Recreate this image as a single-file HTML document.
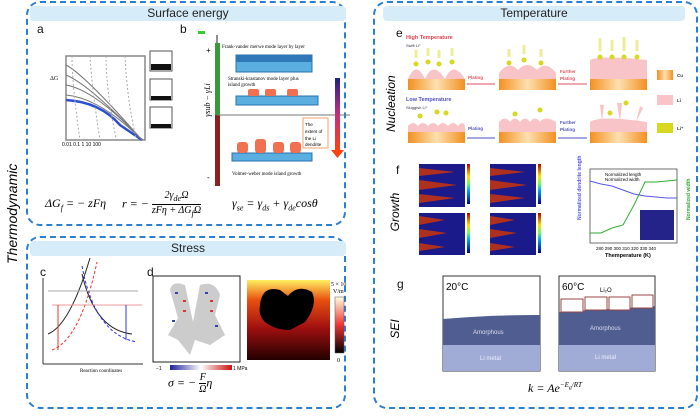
<!DOCTYPE html>
<html><head><meta charset="utf-8"><style>
body{margin:0;width:700px;height:420px;background:#fff;position:relative;overflow:hidden;font-family:"Liberation Sans",sans-serif}
.a{position:absolute}
.box{position:absolute;border:2px dashed #2a7fd0;border-radius:14px;box-sizing:border-box}
.hdr{position:absolute;background:#d6ecf8;border-radius:4px;font-size:12px;text-align:center;line-height:15px;color:#222}
.lab{position:absolute;font-size:12px;color:#111}
.ser{font-family:"Liberation Serif",serif;font-style:italic;white-space:nowrap}
.side{position:absolute;font-style:italic;font-size:12px;transform:rotate(-90deg);transform-origin:center;white-space:nowrap}
</style></head><body>
<div class="box" style="left:26px;top:1px;width:320px;height:225px"></div>
<div class="box" style="left:26px;top:236px;width:320px;height:173px"></div>
<div class="box" style="left:373px;top:1px;width:325px;height:408px"></div>
<div class="hdr" style="left:30px;top:6px;width:316px">Surface energy</div>
<div class="hdr" style="left:30px;top:241px;width:316px">Stress</div>
<div class="hdr" style="left:383px;top:6px;width:302px">Temperature</div>
<div class="side" style="left:-38px;top:206px;font-size:14px;width:100px;text-align:center">Thermodynamic</div>
<div class="side" style="left:366px;top:100px;width:50px;text-align:center">Nucleation</div>
<div class="side" style="left:375px;top:205px;width:40px;text-align:center">Growth</div>
<div class="side" style="left:380px;top:322px;width:30px;text-align:center">SEI</div>
<div class="lab" style="left:37px;top:22px">a</div>
<div class="lab" style="left:180px;top:22px">b</div>
<div class="lab" style="left:40px;top:265px">c</div>
<div class="lab" style="left:147px;top:265px">d</div>
<div class="lab" style="left:396px;top:26px">e</div>
<div class="lab" style="left:396px;top:163px">f</div>
<div class="lab" style="left:397px;top:277px">g</div>
<svg class="a" style="left:0;top:0" width="700" height="420">
<rect x="66" y="56" width="79" height="84" fill="none" stroke="#888" stroke-width="1.5"/>
<path d="M66 100 Q100 102 120 125 L142 140" stroke="#2a4fd0" stroke-width="2.5" fill="none"/>
<path d="M66 95 Q100 98 142 140 M66 85 Q95 90 142 140 M66 75 Q90 85 142 140 M66 65 Q85 75 142 140" stroke="#777" fill="none"/>
<path d="M72 56 Q72 85 80 140 M90 56 Q92 90 100 140 M106 56 Q106 90 116 138 M125 56 Q127 100 136 138" stroke="#aaa" stroke-dasharray="2,2" fill="none"/>
<text x="50" y="80" font-size="6" font-family="Liberation Serif">ΔG</text>
<text x="62" y="146" font-size="5">0.01  0.1   1   10  100</text>
<g fill="#fff" stroke="#555"><rect x="150" y="51" width="22" height="20"/><rect x="150" y="79" width="22" height="21"/><rect x="150" y="107" width="22" height="21"/></g>
<g fill="#111"><rect x="151" y="64" width="20" height="6"/><rect x="151" y="96" width="20" height="4"/><rect x="151" y="124" width="20" height="4"/></g>
<line x1="217" y1="35" x2="217" y2="186" stroke="#222"/>
<rect x="215" y="43" width="5" height="72" fill="#3a9a3a"/><rect x="215" y="115" width="5" height="71" fill="#8a2020"/>
<rect x="198" y="31" width="7" height="3" fill="#3c3"/>
<line x1="217" y1="115" x2="350" y2="115" stroke="#777"/>
<text x="222" y="48" font-size="5" font-family="Liberation Serif">Frank-vander merwe mode layer by layer</text>
<rect x="236" y="55" width="76" height="17" fill="#5aaee0" stroke="#2a70b0"/><rect x="236" y="55" width="76" height="7" fill="#2f78b8"/>
<text x="228" y="80" font-size="5" font-family="Liberation Serif">Stranski-krastanov mode layer plus</text>
<text x="228" y="86" font-size="5" font-family="Liberation Serif">island growth</text>
<rect x="236" y="96" width="82" height="9" fill="#5aaee0" stroke="#2a70b0"/>
<g fill="#f07050"><rect x="248" y="89" width="11" height="7" rx="2"/><rect x="265" y="89" width="11" height="7" rx="2"/><rect x="287" y="89" width="11" height="7" rx="2"/></g>
<rect x="232" y="153" width="80" height="8" fill="#5aaee0" stroke="#2a70b0"/>
<g fill="#f07050"><rect x="237" y="142" width="11" height="11" rx="3"/><rect x="255" y="139" width="11" height="14" rx="3"/><rect x="273" y="142" width="11" height="11" rx="3"/><rect x="290" y="142" width="11" height="11" rx="3"/></g>
<text x="232" y="175" font-size="5" font-family="Liberation Serif">Volmer-weber mode island growth</text>
<defs><linearGradient id="g1" x1="0" y1="0" x2="0" y2="1"><stop offset="0" stop-color="#202080"/><stop offset="0.5" stop-color="#c03080"/><stop offset="1" stop-color="#ff4010"/></linearGradient>
<linearGradient id="cu" x1="0" x2="1"><stop offset="0" stop-color="#f39020"/><stop offset="0.5" stop-color="#fde0b0"/><stop offset="1" stop-color="#f39020"/></linearGradient>
<linearGradient id="hm" x1="0" y1="0" x2="0" y2="1"><stop offset="0" stop-color="#ffef60"/><stop offset="0.25" stop-color="#e85010"/><stop offset="0.6" stop-color="#a01010"/><stop offset="1" stop-color="#200"/></linearGradient>
<linearGradient id="jet" x1="0" y1="1" x2="0" y2="0"><stop offset="0" stop-color="#00008f"/><stop offset="0.35" stop-color="#0af"/><stop offset="0.5" stop-color="#6f6"/><stop offset="0.7" stop-color="#fd0"/><stop offset="1" stop-color="#a00"/></linearGradient></defs>
<rect x="335" y="78" width="5" height="72" fill="url(#g1)"/><polygon points="331,150 344,150 337.5,158" fill="#ff4010"/>
<rect x="303" y="118" width="25" height="30" fill="#fff" stroke="#f0a070"/>
<text x="305" y="126" font-size="4.5">The</text><text x="305" y="133" font-size="4.5">extent of</text><text x="305" y="140" font-size="4.5">the Li</text><text x="305" y="146" font-size="4.5">dendrite</text>
<text x="206" y="53" font-size="8">+</text><text x="207" y="180" font-size="8">-</text>
<text x="210" y="100" font-size="8" font-family="Liberation Serif" font-style="italic" transform="rotate(-90 210 100)" text-anchor="middle">γsub − γLi</text>
<line x1="43" y1="278" x2="43" y2="364" stroke="#333"/><line x1="43" y1="364" x2="143" y2="364" stroke="#333"/>
<path d="M48 334 Q70 325 90 258" stroke="#222" fill="none"/><path d="M82 274 Q95 330 132 334" stroke="#222" fill="none"/>
<path d="M52 350 Q80 340 97 262" stroke="#e33" stroke-dasharray="3,2" fill="none"/><path d="M82 266 Q95 335 137 342" stroke="#33e" stroke-dasharray="3,2" fill="none"/>
<line x1="48" y1="291" x2="138" y2="291" stroke="#aaa"/><line x1="52" y1="305" x2="142" y2="305" stroke="#e99"/>
<line x1="58" y1="305" x2="58" y2="350" stroke="#e33"/><line x1="126" y1="305" x2="126" y2="340" stroke="#33e"/>
<text x="80" y="372" font-size="5" font-family="Liberation Serif">Reaction coordinates</text>
<rect x="153" y="276" width="87" height="86" fill="#fff" stroke="#222"/>
<path d="M170 290 Q172 280 185 285 L193 322 L200 285 Q215 280 220 295 L215 315 L225 335 L210 345 L195 340 L190 355 L178 340 L168 335 L178 318 Z" fill="#ccc"/>
<g fill="#34a"><rect x="175" y="292" width="3" height="2"/><rect x="205" y="292" width="3" height="2"/><rect x="172" y="320" width="3" height="2"/><rect x="215" y="325" width="3" height="2"/></g>
<g fill="#d33"><rect x="183" y="300" width="3" height="2"/><rect x="210" y="300" width="3" height="2"/><rect x="183" y="310" width="3" height="2"/><rect x="210" y="310" width="3" height="2"/></g>
<defs><linearGradient id="bwr" x1="0" x2="1"><stop offset="0" stop-color="#229"/><stop offset="0.5" stop-color="#fff"/><stop offset="1" stop-color="#c11"/></linearGradient>
<linearGradient id="hot" x1="0" y1="0" x2="0" y2="1"><stop offset="0" stop-color="#ffffe0"/><stop offset="0.5" stop-color="#e33"/><stop offset="1" stop-color="#000"/></linearGradient></defs>
<rect x="170" y="365" width="62" height="5" fill="url(#bwr)"/>
<text x="156" y="370" font-size="5">−1</text><text x="233" y="370" font-size="5">1 MPa</text>
<rect x="247" y="280" width="83" height="80" fill="url(#hm)"/>
<path d="M260 305 Q262 285 280 290 L288 296 Q298 284 312 292 Q318 305 305 322 L290 330 Q275 330 265 322 Q258 315 260 305Z" fill="#000"/>
<rect x="335" y="297" width="9" height="56" fill="url(#hot)" stroke="#555" stroke-width="0.5"/>
<text x="331" y="286" font-size="6" font-family="Liberation Serif">5 × 10</text><text x="333" y="293" font-size="6" font-family="Liberation Serif">V/m</text>
<text x="337" y="362" font-size="6" font-family="Liberation Serif">0</text>
<text x="406" y="39" font-size="5.5" fill="#e04050" font-weight="bold">High Temperature</text>
<text x="406" y="47" font-size="4" fill="#334">Swift Li⁺</text>
<text x="406" y="101" font-size="5.5" fill="#5050c0" font-weight="bold">Low Temperature</text>
<text x="406" y="109" font-size="4" fill="#334">Sluggish Li⁺</text>
<g fill="url(#cu)"><rect x="408" y="79" width="57" height="11"/><rect x="499" y="79" width="57" height="11"/><rect x="590" y="79" width="57" height="11"/>
<rect x="408" y="132" width="57" height="11"/><rect x="499" y="132" width="57" height="11"/><rect x="590" y="132" width="57" height="11"/>
<rect x="657" y="70" width="16" height="10"/></g>
<g fill="#f9c4c8"><path d="M408 79 Q416 60 425 79 Q433 60 445 79 Q453 60 465 79Z"/><path d="M499 79 L499 73 Q509 60 518 70 Q527 60 537 70 Q546 60 556 73 L556 79Z"/>
<path d="M590 79 L590 60 Q600 55 647 60 L647 79Z"/><rect x="657" y="95" width="16" height="10"/>
<path d="M408 132 L408 126 Q413 120 418 126 Q423 120 428 126 Q433 120 438 126 Q443 120 448 126 Q453 120 458 126 Q463 120 465 126 L465 132Z"/>
<path d="M499 132 L499 122 Q505 115 510 122 Q515 115 520 122 Q525 115 530 122 Q535 115 540 122 Q545 115 556 122 L556 132Z"/>
<path d="M590 132 L590 122 Q600 115 647 122 L647 132Z M602 122 L600 105 L604 105 Z M620 122 L617 103 L622 103 Z M636 122 L640 106 L643 108 Z"/></g>
<g fill="#d8d820"><circle cx="416" cy="64" r="2.5"/><circle cx="428" cy="62" r="2.5"/><circle cx="439" cy="64" r="2.5"/><circle cx="452" cy="62" r="2.5"/>
<circle cx="509" cy="63" r="2.5"/><circle cx="524" cy="60" r="2.5"/><circle cx="541" cy="63" r="2.5"/>
<circle cx="600" cy="57" r="2.5"/><circle cx="612" cy="57" r="2.5"/><circle cx="624" cy="57" r="2.5"/><circle cx="637" cy="57" r="2.5"/>
<circle cx="420" cy="116" r="2.5"/><circle cx="437" cy="112" r="2.5"/><circle cx="446" cy="113" r="2.5"/><circle cx="515" cy="114" r="2.5"/><circle cx="540" cy="110" r="2.5"/>
<circle cx="610" cy="113" r="2.5"/><circle cx="626" cy="103" r="2.5"/><rect x="657" y="123" width="16" height="10"/></g>
<g stroke="#e8e880" stroke-width="3" opacity="0.8"><line x1="416" y1="50" x2="416" y2="58"/><line x1="428" y1="48" x2="428" y2="56"/><line x1="439" y1="50" x2="439" y2="58"/><line x1="452" y1="48" x2="452" y2="56"/>
<line x1="509" y1="49" x2="509" y2="57"/><line x1="524" y1="45" x2="524" y2="54"/><line x1="541" y1="49" x2="541" y2="57"/>
<line x1="600" y1="38" x2="600" y2="51"/><line x1="612" y1="40" x2="612" y2="51"/><line x1="624" y1="37" x2="624" y2="51"/><line x1="637" y1="40" x2="637" y2="51"/></g>
<g stroke="#e05060" fill="none"><line x1="467" y1="84" x2="495" y2="84"/><line x1="558" y1="84" x2="587" y2="84"/></g>
<g stroke="#5050c0"><line x1="467" y1="138" x2="495" y2="138"/><line x1="558" y1="138" x2="587" y2="138"/></g>
<g font-size="4.5" font-weight="bold"><text x="468" y="79" fill="#e05060">Plating</text><text x="560" y="73" fill="#e05060">Further</text><text x="560" y="80" fill="#e05060">Plating</text>
<text x="468" y="130" fill="#5050c0">Plating</text><text x="560" y="124" fill="#5050c0">Further</text><text x="560" y="131" fill="#5050c0">Plating</text>
<text x="677" y="77" fill="#333">Cu</text><text x="677" y="102" fill="#333">Li</text><text x="677" y="130" fill="#333">Li⁺</text></g>
<g fill="#1a1a8a"><rect x="419" y="164" width="46" height="43"/><rect x="490" y="164" width="46" height="43"/><rect x="419" y="213" width="46" height="42"/><rect x="490" y="213" width="46" height="42"/></g>
<g fill="#b03020"><path d="M419 168 L455 172 L419 176Z M419 180 L457 185 L419 190Z M419 194 L455 198 L419 203Z M490 168 L525 172 L490 176Z M490 180 L527 185 L490 190Z M490 194 L525 198 L490 203Z
M419 216 L445 220 L419 225Z M419 229 L447 233 L419 238Z M419 243 L445 247 L419 251Z M490 216 L515 220 L490 225Z M490 229 L517 233 L490 238Z M490 243 L515 247 L490 251Z"/></g>
<g fill="url(#jet)"><rect x="467" y="164" width="3" height="40"/><rect x="538" y="164" width="3" height="40"/><rect x="467" y="213" width="3" height="40"/><rect x="538" y="213" width="3" height="40"/></g>
<rect x="590" y="169" width="87" height="74" fill="#fff" stroke="#333" stroke-width="0.7"/>
<polyline points="590,181 601,184 612,186 623,190 634,194 645,196 656,197 667,198 677,198" stroke="#55e" fill="none"/>
<polyline points="590,233 601,233 612,228 623,225 634,205 645,182 656,182 667,181 677,180" stroke="#3a3" fill="none"/>
<rect x="640" y="210" width="34" height="30" fill="#23238a"/>
<text x="605" y="176" font-size="4.5">Normalized length</text><text x="605" y="181" font-size="4.5">Normalized width</text>
<text x="596" y="250" font-size="4.5">280 290 300 310 320 330 340</text>
<text x="605" y="257" font-size="5.5" font-weight="bold">Themperature (K)</text>
<text x="581" y="220" font-size="5" fill="#55e" font-weight="bold" transform="rotate(-90 581 220)">Normalized dendrite length</text>
<text x="690" y="220" font-size="5" fill="#3a3" font-weight="bold" transform="rotate(-90 690 220)">Normalized width</text>
<rect x="443" y="276" width="97" height="95" fill="#fff" stroke="#333"/>
<path d="M443 319 Q490 315 540 315 L540 345 L443 345Z" fill="#4f5d90"/><rect x="443" y="345" width="97" height="26" fill="#a0acd6"/>
<rect x="559" y="276" width="96" height="95" fill="#fff" stroke="#333"/>
<path d="M559 312 L655 306 L655 345 L559 345Z" fill="#4f5d90"/><rect x="559" y="345" width="96" height="26" fill="#a0acd6"/>
<g fill="#fff" stroke="#944"><rect x="561" y="299" width="22" height="13"/><rect x="585" y="297" width="22" height="13"/><rect x="609" y="297" width="21" height="13"/><rect x="632" y="295" width="21" height="13"/></g>
<text x="446" y="290" font-size="10">20°C</text><text x="562" y="290" font-size="10">60°C</text><text x="600" y="292" font-size="6">Li₂O</text>
<text x="473" y="334" font-size="6" fill="#dde">Amorphous</text><text x="590" y="330" font-size="6" fill="#dde">Amorphous</text>
<text x="480" y="360" font-size="6" fill="#eef">Li metal</text><text x="595" y="359" font-size="6" fill="#eef">Li metal</text>
</svg>
<div class="a ser" style="left:45px;top:196px;font-size:12px">ΔG<sub style="font-size:8px">f</sub> = − zFη</div>
<div class="a ser" style="left:122px;top:190px;font-size:12px;line-height:12px">r = − <span style="display:inline-block;vertical-align:middle;text-align:center;font-size:10px;line-height:11px"><span style="border-bottom:1px solid #000;display:block">2γ<sub>de</sub>Ω</span>zFη + ΔG<sub>f</sub>Ω</span></div>
<div class="a ser" style="left:232px;top:196px;font-size:12px">γ<sub style="font-size:8px">se</sub> = γ<sub style="font-size:8px">ds</sub> + γ<sub style="font-size:8px">de</sub>cosθ</div>
<div class="a ser" style="left:168px;top:372px;font-size:12px;line-height:12px">σ = − <span style="display:inline-block;vertical-align:middle;text-align:center;font-size:10px;line-height:11px"><span style="border-bottom:1px solid #000;display:block">F</span>Ω</span>η</div>
<div class="a ser" style="left:528px;top:381px;font-size:12px">k = Ae<sup style="font-size:7px">−E<sub>a</sub>/RT</sup></div>
</body></html>
